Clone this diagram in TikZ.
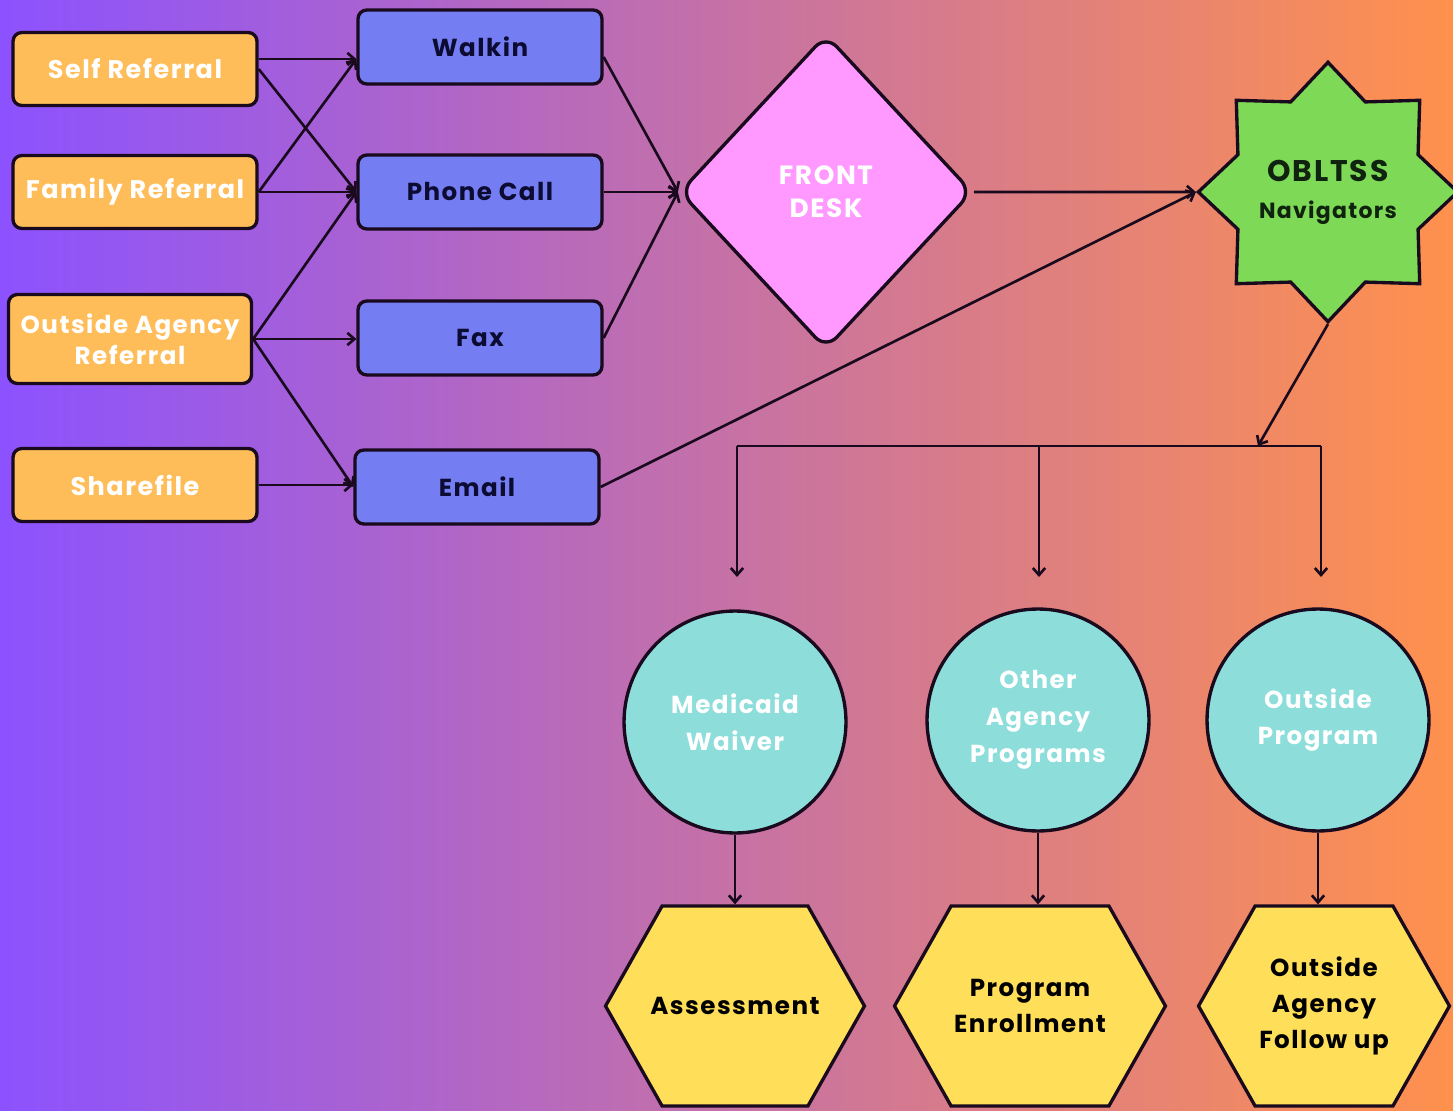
\documentclass[tikz,border=0pt]{standalone}
\usepackage{fontspec}
\setmainfont{Poppins}[LetterSpace=6]
\usetikzlibrary{arrows.meta}
\usetikzlibrary{shapes.geometric}
\usetikzlibrary{shapes.symbols}
\usetikzlibrary{calc}

\definecolor{bgleft}{HTML}{8C52FF}
\definecolor{bgright}{HTML}{FF914D}
\definecolor{edgecol}{RGB}{25,10,30}
\definecolor{srcfill}{HTML}{FFBD59}
\definecolor{chanfill}{RGB}{117,125,242}
\definecolor{chantext}{RGB}{12,12,50}
\definecolor{deskfill}{HTML}{FF99FF}
\definecolor{starfill}{HTML}{7ED957}
\definecolor{startext}{RGB}{15,35,15}
\definecolor{circfill}{RGB}{141,221,219}
\definecolor{hexfill}{HTML}{FFDE59}

\tikzset{
    outline/.style={draw=edgecol, line width=1.9pt},
    srcbox/.style={outline, fill=srcfill, rounded corners=5pt, minimum width=4.88cm, minimum height=1.46cm, text=white, align=center, font=\fontsize{14.5}{17.5}\selectfont\bfseries},
    chanbox/.style={outline, fill=chanfill, rounded corners=5pt, minimum width=4.88cm, minimum height=1.48cm, text=chantext, font=\fontsize{14}{17}\selectfont\bfseries},
    deskshape/.style={outline, fill=deskfill, diamond, rounded corners=9pt, minimum width=5.86cm, minimum height=6.3cm, inner sep=0pt, text=white, align=center, font=\fontsize{15}{19}\selectfont\bfseries},
    navstar/.style={outline, fill=starfill, star, star points=8, star point ratio=1.33, minimum size=4.95cm, inner sep=0pt, text=startext, align=center, font=\fontsize{17}{24}\selectfont\bfseries},
    progcirc/.style={outline, fill=circfill, circle, minimum size=4.44cm, inner sep=0pt, text=white, align=center, font=\fontsize{14}{21}\selectfont\bfseries},
    stephex/.style={outline, fill=hexfill, signal, signal to=east and west, signal from=nowhere, signal pointer angle=121, minimum height=4.0cm, inner sep=0pt, align=center, text=black, font=\fontsize{14}{20.5}\selectfont\bfseries},
    link/.style={draw=edgecol, line width=1.5pt, -{Straight Barb[length=4pt,width=7pt]}},
    bar/.style={draw=edgecol, line width=1.5pt}
}

\begin{document}
\begin{tikzpicture}[x=0.02cm, y=-0.02cm]
            \shade[left color=bgleft, right color=bgright] (0,0) rectangle (1453,1111);
            \useasboundingbox (0,0) rectangle (1453,1111);

            \node[srcbox] (self) at (135,69) {Self Referral};
            \node[srcbox] (family) at (135,192) {Family Referral};
            \node[srcbox, minimum width=4.86cm, minimum height=1.78cm, font=\fontsize{14}{17.5}\selectfont\bfseries] (outside) at (130,339) {Outside Agency\\Referral};
            \node[srcbox] (share) at (135,485) {Sharefile};

            \node[chanbox] (walkin) at (480,47) {Walkin};
            \node[chanbox] (phone) at (480,192) {Phone Call};
            \node[chanbox] (fax) at (480,338) {Fax};
            \node[chanbox] (email) at (477,487) {Email};

            \node[deskshape] (desk) at (826,192) {FRONT\\DESK};
            \node[navstar] (nav) at (1328,192) {\raisebox{-3pt}{OBLTSS}\\{\fontsize{12.5}{16}\selectfont\bfseries Navigators}};

            \node[progcirc] (medicaid) at (735,722) {Medicaid\\Waiver};
            \node[progcirc] (other) at (1038,720) {Other\\Agency\\Programs};
            \node[progcirc] (outprog) at (1318,720) {Outside\\Program};

            \node[stephex, minimum width=5.18cm, inner xsep=-0.3cm] (assess) at (735,1006) {Assessment};
            \node[stephex, minimum width=5.42cm] (enroll) at (1030,1006) {Program\\Enrollment};
            \node[stephex, minimum width=5.02cm] (follow) at (1324,1006) {Outside\\Agency\\Follow up};

            \draw[link] ([yshift=0.2cm]self.east) -- ([yshift=0.2cm]self.east -| walkin.west);
            \draw[link] (self.east) -- (phone.west);
            \draw[link] (family.east) -- ([yshift=0.2cm]self.east -| walkin.west);
            \draw[link] (family.east) -- (phone.west);
            \draw[link] (outside.east) -- (phone.west);
            \draw[link] (outside.east) -- (outside.east -| fax.west);
            \draw[link] (outside.east) -- (email.west);
            \draw[link] (share.east) -- (share.east -| email.west);

            \draw[link] ([yshift=-0.2cm]walkin.east) -- (desk.west);
            \draw[link] (phone.east) -- (desk.west);
            \draw[link] (fax.east) -- (desk.west);
            \draw[link] (email.east) -- (nav.west);
            \draw[link] (desk.east) -- (nav.west);

            \coordinate (split) at (1258,446);
            \coordinate (barL) at (737,446);
            \coordinate (barM) at (1039,446);
            \coordinate (barR) at (1321,446);
            \draw[link] (nav.south) -- (split);
            \draw[bar] (barL) -- (barR);
            \draw[link] (barL) -- (barL |- 0,577);
            \draw[link] (barM) -- (barM |- 0,577);
            \draw[link] (barR) -- (barR |- 0,577);

            \draw[link] (medicaid.south) -- (medicaid.south |- assess.north);
            \draw[link] (other.south) -- (other.south |- enroll.north);
            \draw[link] (outprog.south) -- (outprog.south |- follow.north);
        \end{tikzpicture}
\end{document}
